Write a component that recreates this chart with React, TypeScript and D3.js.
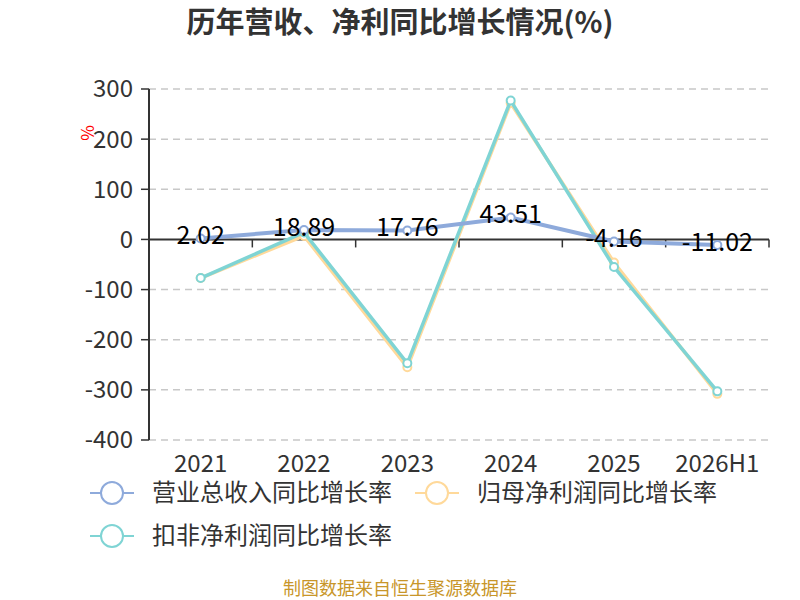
import { useEffect, useRef } from 'react'
import * as d3 from 'd3'

const categories = ['2021', '2022', '2023', '2024', '2025', '2026H1']
const revenueGrowth = [2.02, 18.89, 17.76, 43.51, -4.16, -11.02]
const netProfitGrowth = [-77, 7, -255, 272, -46, -308]
const deductedProfitGrowth = [-77, 14, -247, 277, -55, -303]
const yTicks = [300, 200, 100, 0, -100, -200, -300, -400]

const seriesNames = ['营业总收入同比增长率', '归母净利润同比增长率', '扣非净利润同比增长率']
const seriesColors = ['#8eaadb', '#ffd99a', '#7fd4d4']

const FONT = '"Microsoft YaHei", "Noto Sans CJK SC", "Noto Sans", sans-serif'

export default function App() {
  const svgRef = useRef<SVGSVGElement | null>(null)

  useEffect(() => {
    if (!svgRef.current) return
    const svg = d3.select(svgRef.current)
    svg.selectAll('*').remove()

    const left = 149,
      right = 769,
      top = 89,
      bottom = 440

    const x = d3.scaleBand<string>().domain(categories).range([left, right])
    const y = d3.scaleLinear().domain([-400, 300]).range([bottom, top])
    const cx = (c: string) => (x(c) ?? 0) + x.bandwidth() / 2

    // 标题
    svg
      .append('text')
      .attr('x', 400)
      .attr('y', 33)
      .attr('text-anchor', 'middle')
      .attr('font-size', 29)
      .attr('font-weight', 'bold')
      .attr('fill', '#333')
      .text('历年营收、净利同比增长情况(%)')

    // 网格线
    svg
      .append('g')
      .selectAll('line')
      .data(yTicks.filter((d) => d !== 0))
      .join('line')
      .attr('x1', left)
      .attr('x2', right)
      .attr('y1', (d) => y(d))
      .attr('y2', (d) => y(d))
      .attr('stroke', '#c8c8c8')
      .attr('stroke-width', 1.5)
      .attr('stroke-dasharray', '7,5')

    // y 轴
    const yAxis = svg.append('g').attr('transform', `translate(${left},0)`)
    yAxis
      .append('line')
      .attr('y1', top)
      .attr('y2', bottom)
      .attr('stroke', '#333')
      .attr('stroke-width', 2)
    yAxis
      .selectAll('line.tick')
      .data(yTicks)
      .join('line')
      .attr('class', 'tick')
      .attr('x1', -8)
      .attr('x2', 0)
      .attr('y1', (d) => y(d))
      .attr('y2', (d) => y(d))
      .attr('stroke', '#333')
      .attr('stroke-width', 1.5)
    yAxis
      .selectAll('text')
      .data(yTicks)
      .join('text')
      .attr('x', -16)
      .attr('y', (d) => y(d))
      .attr('dy', '0.35em')
      .attr('text-anchor', 'end')
      .attr('font-size', 24)
      .attr('fill', '#333')
      .text((d) => d)

    svg
      .append('text')
      .attr('transform', `translate(88,133) rotate(-90)`)
      .attr('text-anchor', 'middle')
      .attr('dy', '0.35em')
      .attr('font-size', 17)
      .attr('fill', 'red')
      .text('%')

    // x 轴（在 0 处）
    const xAxis = svg.append('g').attr('transform', `translate(0,${y(0)})`)
    xAxis
      .append('line')
      .attr('x1', left)
      .attr('x2', right)
      .attr('stroke', '#333')
      .attr('stroke-width', 2)
    xAxis
      .selectAll('line.tick')
      .data(categories.map((c) => x(c) ?? 0).concat([right]))
      .join('line')
      .attr('class', 'tick')
      .attr('x1', (d) => d)
      .attr('x2', (d) => d)
      .attr('y1', 0)
      .attr('y2', 8)
      .attr('stroke', '#333')
      .attr('stroke-width', 1.5)

    svg
      .append('g')
      .selectAll('text')
      .data(categories)
      .join('text')
      .attr('x', (d) => cx(d))
      .attr('y', 472)
      .attr('text-anchor', 'middle')
      .attr('font-size', 24)
      .attr('fill', '#333')
      .text((d) => d)

    // 折线
    const allSeries = [revenueGrowth, netProfitGrowth, deductedProfitGrowth]
    const drawOrder = [1, 2, 0]
    const line = d3
      .line<number>()
      .x((_, i) => cx(categories[i]))
      .y((d) => y(d))

    drawOrder.forEach((si) => {
      const data = allSeries[si]
      const g = svg.append('g')
      g.append('path')
        .datum(data)
        .attr('d', line)
        .attr('fill', 'none')
        .attr('stroke', seriesColors[si])
        .attr('stroke-width', si === 0 ? 4 : 3.5)
      g.selectAll('circle')
        .data(data)
        .join('circle')
        .attr('cx', (_, i) => cx(categories[i]))
        .attr('cy', (d) => y(d))
        .attr('r', 4)
        .attr('fill', '#fff')
        .attr('stroke', seriesColors[si])
        .attr('stroke-width', 2)
    })

    // 数据标签
    svg
      .append('g')
      .selectAll('text')
      .data(revenueGrowth)
      .join('text')
      .attr('x', (_, i) => cx(categories[i]))
      .attr('y', (d) => y(d) - 3)
      .attr('dy', '0.35em')
      .attr('text-anchor', 'middle')
      .attr('font-size', 25)
      .attr('fill', '#000')
      .text((d) => d.toFixed(2))

    // 图例
    const legendPos = [
      [90, 493],
      [415, 493],
      [90, 536],
    ]
    seriesNames.forEach((name, i) => {
      const [lx, ly] = legendPos[i]
      const g = svg.append('g').attr('transform', `translate(${lx},${ly})`)
      g.append('line')
        .attr('x1', 0)
        .attr('x2', 44)
        .attr('stroke', seriesColors[i])
        .attr('stroke-width', 2)
      g.append('circle')
        .attr('cx', 22)
        .attr('r', 11)
        .attr('fill', '#fff')
        .attr('stroke', seriesColors[i])
        .attr('stroke-width', 2)
      g.append('text')
        .attr('x', 62)
        .attr('dy', '0.35em')
        .attr('font-size', 24)
        .attr('fill', '#333')
        .text(name)
    })

    svg
      .append('text')
      .attr('x', 400)
      .attr('y', 595)
      .attr('text-anchor', 'middle')
      .attr('font-size', 18)
      .attr('fill', '#c8962a')
      .text('制图数据来自恒生聚源数据库')
  }, [])

  return (
    <svg
      ref={svgRef}
      width={800}
      height={600}
      style={{ position: 'absolute', left: 0, top: 0, fontFamily: FONT, background: '#fff' }}
    />
  )
}
